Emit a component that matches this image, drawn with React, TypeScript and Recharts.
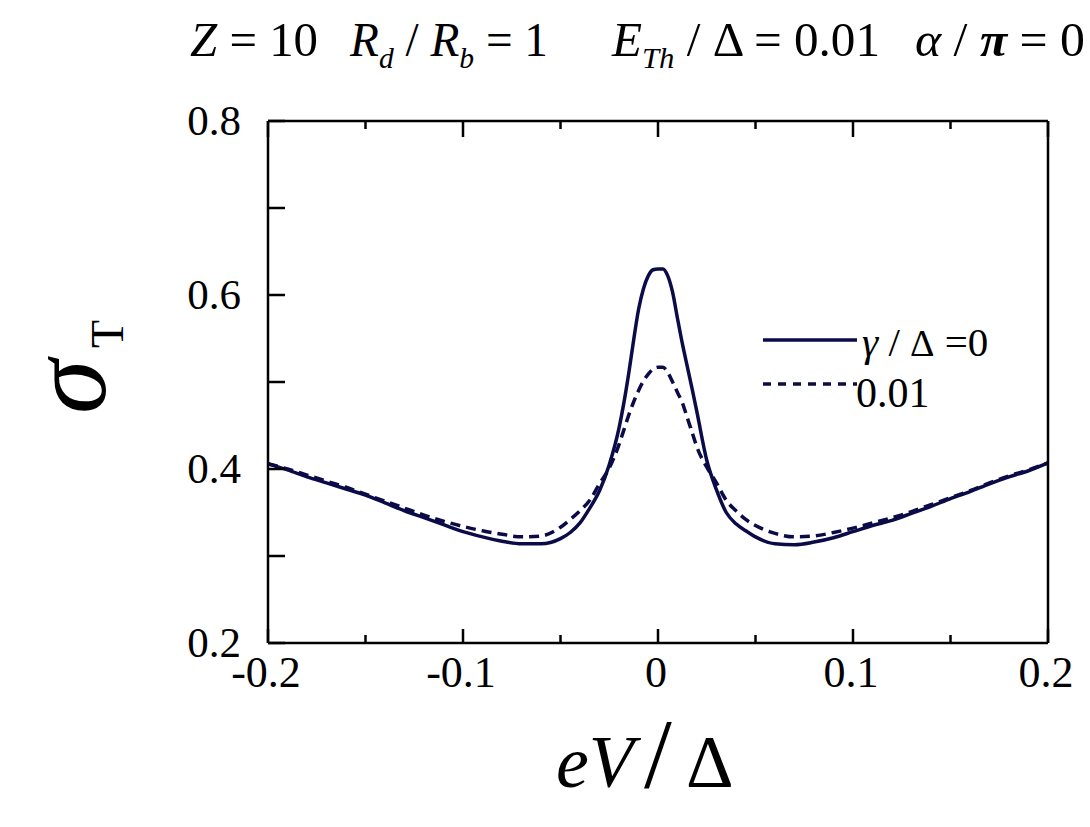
import { LineChart, Line, XAxis, YAxis } from 'recharts';

// eV / Delta sample positions
const eV = [
  -0.2, -0.19, -0.18, -0.17, -0.16, -0.15, -0.14, -0.13, -0.12, -0.11, -0.1, -0.09, -0.08, -0.07, -0.06,
  -0.05, -0.045, -0.04, -0.035, -0.03, -0.025,
  -0.02, -0.0175, -0.015, -0.0125, -0.01, -0.0075, -0.005, -0.0025,
  0,
  0.0025, 0.005, 0.0075, 0.01, 0.0125, 0.015, 0.0175, 0.02,
  0.025, 0.03, 0.035, 0.04, 0.045, 0.05,
  0.06, 0.07, 0.08, 0.09, 0.1, 0.11, 0.12, 0.13, 0.14, 0.15, 0.16, 0.17, 0.18, 0.19, 0.2,
];

// sigma_T for gamma/Delta = 0 (solid)
const sigmaGamma0 = [
  0.406, 0.399, 0.391, 0.384, 0.377, 0.37, 0.361, 0.352, 0.344, 0.336, 0.328, 0.322, 0.317, 0.314, 0.314,
  0.32, 0.327, 0.338, 0.355, 0.375, 0.405,
  0.447, 0.476, 0.51, 0.548, 0.583, 0.607, 0.622, 0.629,
  0.63,
  0.63, 0.622, 0.603, 0.573, 0.544, 0.518, 0.492, 0.465,
  0.41, 0.376, 0.35, 0.337, 0.329, 0.322,
  0.314, 0.313, 0.316, 0.321, 0.328, 0.335, 0.341, 0.349, 0.357, 0.366, 0.374, 0.383, 0.391, 0.398, 0.407,
];

// sigma_T for gamma/Delta = 0.01 (dashed)
const sigmaGamma001 = [
  0.406, 0.4, 0.393, 0.386, 0.379, 0.371, 0.363, 0.355, 0.347, 0.34, 0.334, 0.329, 0.325, 0.322, 0.323,
  0.333, 0.342, 0.352, 0.364, 0.383, 0.401,
  0.428, 0.445, 0.462, 0.477, 0.49, 0.501, 0.509, 0.515,
  0.517,
  0.517, 0.511, 0.5, 0.488, 0.476, 0.459, 0.442, 0.425,
  0.402, 0.384, 0.364, 0.352, 0.342, 0.335,
  0.326, 0.322, 0.323, 0.327, 0.332, 0.338, 0.344, 0.351, 0.359, 0.367, 0.375, 0.384, 0.392, 0.399, 0.407,
];

const xTicks = [-0.2, -0.15, -0.1, -0.05, 0, 0.05, 0.1, 0.15, 0.2];
const xMajor = [-0.2, -0.1, 0, 0.1, 0.2];
const xLabels = ['-0.2', '-0.1', '0', '0.1', '0.2'];
const yTicks = [0.2, 0.3, 0.4, 0.5, 0.6, 0.7, 0.8];
const yMajor = [0.2, 0.4, 0.6, 0.8];
const yLabels = ['0.2', '0.4', '0.6', '0.8'];

const rows = eV.map((x, i) => ({ eV: x, g0: sigmaGamma0[i], g001: sigmaGamma001[i] }));

const INK = '#0b0b48';
const SERIF = "'Liberation Serif', 'Times New Roman', Times, serif";
const serifStyle = { fontFamily: SERIF };

function majorIndex(list: number[], v: number) {
  return list.findIndex((m) => Math.abs(m - v) < 1e-9);
}

function LeftTick({ x, y, payload }: any) {
  const i = majorIndex(yMajor, payload.value);
  return (
    <g>
      <line x1={x} x2={x + 17} y1={y} y2={y} stroke="#000" strokeWidth={2.5} />
      {i >= 0 && (
        <text x={x - 27} y={y + 14} textAnchor="end" style={serifStyle} fontSize={43} fill="#000">
          {yLabels[i]}
        </text>
      )}
    </g>
  );
}

function RightTick({ x, y }: any) {
  return <line x1={x - 12} x2={x} y1={y} y2={y} stroke="#000" strokeWidth={2.5} />;
}

function BottomTick({ x, y, payload }: any) {
  const i = majorIndex(xMajor, payload.value);
  return (
    <g>
      <line x1={x} x2={x} y1={y - (i >= 0 ? 14 : 8)} y2={y} stroke="#000" strokeWidth={2.5} />
      {i >= 0 && (
        <text x={x - 2} y={y + 44} textAnchor="middle" style={serifStyle} fontSize={44} fill="#000">
          {xLabels[i]}
        </text>
      )}
    </g>
  );
}

function TopTick({ x, y, payload }: any) {
  const i = majorIndex(xMajor, payload.value);
  return <line x1={x} x2={x} y1={y} y2={y + (i >= 0 ? 16 : 8)} stroke="#000" strokeWidth={2.5} />;
}

export default function App() {
  return (
    <div style={{ position: 'absolute', left: 0, top: 0, width: 1090, height: 827, background: '#fff' }}>
      <div style={{ position: 'absolute', left: 0, top: 0 }}>
        <LineChart width={1090} height={827} data={rows} margin={{ top: 0, right: 0, bottom: 0, left: 0 }}>
          <XAxis
            xAxisId="bottom"
            dataKey="eV"
            type="number"
            domain={[-0.2, 0.2]}
            ticks={xTicks}
            interval={0}
            height={184}
            tickSize={0}
            tickMargin={0}
            tickLine={false}
            axisLine={{ stroke: '#000', strokeWidth: 2.5 }}
            tick={(p: any) => <BottomTick {...p} />}
          />
          <XAxis
            xAxisId="top"
            orientation="top"
            dataKey="eV"
            type="number"
            domain={[-0.2, 0.2]}
            ticks={xTicks}
            interval={0}
            height={121}
            tickSize={0}
            tickMargin={0}
            tickLine={false}
            axisLine={{ stroke: '#000', strokeWidth: 2.5 }}
            tick={(p: any) => <TopTick {...p} />}
          />
          <YAxis
            yAxisId="left"
            type="number"
            domain={[0.2, 0.8]}
            ticks={yTicks}
            interval={0}
            width={268}
            tickSize={0}
            tickMargin={0}
            tickLine={false}
            axisLine={{ stroke: '#000', strokeWidth: 2.5 }}
            tick={(p: any) => <LeftTick {...p} />}
          />
          <YAxis
            yAxisId="right"
            orientation="right"
            type="number"
            domain={[0.2, 0.8]}
            ticks={yTicks}
            interval={0}
            width={42}
            tickSize={0}
            tickMargin={0}
            tickLine={false}
            axisLine={{ stroke: '#000', strokeWidth: 2.5 }}
            tick={(p: any) => <RightTick {...p} />}
          />
          <Line
            xAxisId="bottom"
            yAxisId="left"
            type="monotone"
            dataKey="g0"
            stroke={INK}
            strokeWidth={3.5}
            dot={false}
            isAnimationActive={false}
          />
          <Line
            xAxisId="bottom"
            yAxisId="left"
            type="monotone"
            dataKey="g001"
            stroke={INK}
            strokeWidth={3.5}
            strokeDasharray="10 6"
            dot={false}
            isAnimationActive={false}
          />
        </LineChart>
      </div>
      <svg
        width={1090}
        height={827}
        style={{ position: 'absolute', left: 0, top: 0, pointerEvents: 'none', fontFamily: SERIF }}
      >
        {/* title */}
        <g fontSize={48} fill="#000">
          <text x={190} y={56} textLength={128} lengthAdjust="spacingAndGlyphs">
            <tspan fontStyle="italic">Z</tspan> = 10
          </text>
          <text x={350} y={56} textLength={198} lengthAdjust="spacingAndGlyphs">
            <tspan fontStyle="italic">R</tspan>
            <tspan fontStyle="italic" fontSize={30} dy={12}>d</tspan>
            <tspan dy={-12}> / </tspan>
            <tspan fontStyle="italic">R</tspan>
            <tspan fontStyle="italic" fontSize={30} dy={12}>b</tspan>
            <tspan dy={-12}> = 1</tspan>
          </text>
          <text x={612} y={56} textLength={268} lengthAdjust="spacingAndGlyphs">
            <tspan fontStyle="italic">E</tspan>
            <tspan fontStyle="italic" fontSize={30} dy={12}>Th</tspan>
            <tspan dy={-12}> / Δ = 0.01</tspan>
          </text>
          <text x={915} y={56} textLength={170} lengthAdjust="spacingAndGlyphs">
            <tspan fontStyle="italic">α</tspan> / <tspan fontStyle="italic" fontWeight="bold">π</tspan> = 0
          </text>
        </g>

        {/* y-axis label */}
        <g transform="translate(105, 414) rotate(-90)" fill="#000">
          <text x={0} y={0} fontSize={110} fontStyle="italic">
            σ
          </text>
          <text x={66} y={18} fontSize={46}>
            T
          </text>
        </g>

        {/* x-axis label */}
        <text y={787} fill="#000" fontSize={74}>
          <tspan x={556} fontStyle="italic">eV</tspan>
          <tspan x={644} fontSize={100}>/</tspan>
          <tspan x={686}>Δ</tspan>
        </text>

        {/* legend */}
        <line x1={763} x2={857} y1={340} y2={340} stroke={INK} strokeWidth={3.5} />
        <line x1={763} x2={857} y1={384} y2={384} stroke={INK} strokeWidth={3.5} strokeDasharray="8 7" />
        <text x={862} y={356} fontSize={41} fill="#000">
          <tspan fontStyle="italic">γ</tspan> / <tspan fontSize={38}>Δ</tspan> =0
        </text>
        <text x={856} y={407} fontSize={42} fill="#000">
          0.01
        </text>
      </svg>
    </div>
  );
}
